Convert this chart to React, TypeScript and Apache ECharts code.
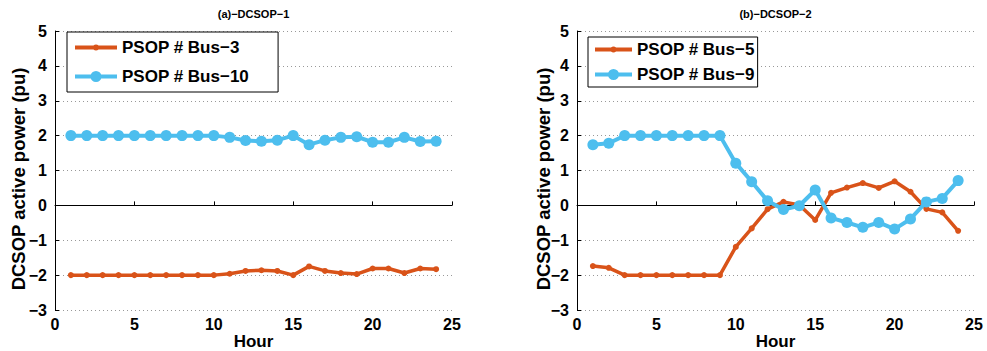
import { useEffect, useRef } from "react";
import * as echarts from "echarts";

// Hours of the day (x axis)
const hours = [1, 2, 3, 4, 5, 6, 7, 8, 9, 10, 11, 12, 13, 14, 15, 16, 17, 18, 19, 20, 21, 22, 23, 24];

// (a) DCSOP-1 active power, pu
const bus3 = [-2, -2, -2, -2, -2, -2, -2, -2, -2, -2, -1.96, -1.88, -1.86, -1.88, -2.0, -1.75, -1.88, -1.94, -1.97, -1.81, -1.81, -1.94, -1.81, -1.83];
const bus10 = [2, 2, 2, 2, 2, 2, 2, 2, 2, 2, 1.95, 1.86, 1.84, 1.87, 2.0, 1.74, 1.87, 1.95, 1.97, 1.81, 1.81, 1.95, 1.83, 1.84];

// (b) DCSOP-2 active power, pu
const bus5 = [-1.74, -1.79, -2, -2, -2, -2, -2, -2, -2, -1.19, -0.66, -0.11, 0.1, 0.01, -0.42, 0.36, 0.51, 0.64, 0.5, 0.69, 0.39, -0.1, -0.2, -0.73];
const bus9 = [1.74, 1.78, 2, 2, 2, 2, 2, 2, 2, 1.21, 0.68, 0.13, -0.12, -0.01, 0.44, -0.36, -0.49, -0.63, -0.49, -0.68, -0.39, 0.1, 0.2, 0.71];

const titles = ["(a)\u2212DCSOP\u22121", "(b)\u2212DCSOP\u22122"];
const names = ["PSOP # Bus\u22123", "PSOP # Bus\u221210", "PSOP # Bus\u22125", "PSOP # Bus\u22129"];
const xName = "Hour";
const yName = "DCSOP active power (pu)";

const ORANGE = "#D95319";
const BLUE = "#4DBEEE";
const FONT = "'Liberation Sans', Arial, Helvetica, sans-serif";

const pairs = (ys: number[]) => hours.map((h, i) => [h, ys[i]]);
const fmtY = (v: number) => (v < 0 ? "\u2212" + Math.abs(v) : String(v));

// legend icons: a bar with a dot in its middle
const lineDotIcon = (w: number, bar: number, r: number) => {
  const h = Math.max(2 * r, bar);
  const cy = h / 2;
  const cx = w / 2;
  return (
    `path://M0 ${cy - bar / 2} H${w} V${cy + bar / 2} H0 Z ` +
    `M${cx} ${cy - r} A${r} ${r} 0 1 1 ${cx} ${cy + r} A${r} ${r} 0 1 1 ${cx} ${cy - r} Z`
  );
};

const grids = [
  { left: 55, top: 31, width: 397, height: 279 },
  { left: 577, top: 31, width: 397, height: 279 },
];

const axisText = { color: "#000", fontFamily: FONT, fontWeight: "bold" as const, fontSize: 16 };

function makeX(gridIndex: number) {
  return {
    type: "value",
    gridIndex,
    min: 0,
    max: 25,
    interval: 5,
    axisLine: { show: true, lineStyle: { color: "#000", width: 1 } },
    axisTick: { show: true, inside: true, length: 4, lineStyle: { color: "#000" } },
    axisLabel: { ...axisText, margin: 6 },
    splitLine: { show: false },
  };
}

function makeY(gridIndex: number) {
  return {
    type: "value",
    gridIndex,
    min: -3,
    max: 5,
    interval: 1,
    axisLine: { show: true, lineStyle: { color: "#000", width: 1 } },
    axisTick: { show: true, inside: true, length: 4, lineStyle: { color: "#000" } },
    axisLabel: { ...axisText, margin: 8, formatter: fmtY },
    splitLine: { show: true, lineStyle: { color: "#999", width: 1, type: [1, 3] } },
  };
}

function lineSeries(name: string, ys: number[], idx: number, big: boolean) {
  return {
    type: "line",
    name,
    xAxisIndex: idx,
    yAxisIndex: idx,
    data: pairs(ys),
    symbol: "circle",
    symbolSize: big ? 11 : 6,
    showSymbol: true,
    color: big ? BLUE : ORANGE,
    itemStyle: { color: big ? BLUE : ORANGE },
    lineStyle: { color: big ? BLUE : ORANGE, width: big ? 4 : 3.5 },
    z: big ? 3 : 2,
  };
}

const legendText = { color: "#000", fontFamily: FONT, fontWeight: "bold" as const, fontSize: 17 };

export default function App() {
  const ref = useRef<HTMLDivElement>(null);

  useEffect(() => {
    document.body.style.margin = "0";
    if (!ref.current) return;
    const chart = echarts.init(ref.current, undefined, { renderer: "svg" });

    const graphic: any[] = [];
    grids.forEach((g, i) => {
      const cx = g.left + g.width / 2;
      graphic.push({
        type: "text",
        x: cx,
        y: 14,
        style: { text: titles[i], align: "center", verticalAlign: "middle", fill: "#000", font: `bold 11px ${FONT}` },
      });
      graphic.push({
        type: "text",
        x: cx,
        y: 341,
        style: { text: xName, align: "center", verticalAlign: "middle", fill: "#000", font: `bold 17px ${FONT}` },
      });
      graphic.push({
        type: "text",
        x: i === 0 ? 18 : 543,
        y: 179,
        rotation: Math.PI / 2,
        style: { text: yName, align: "center", verticalAlign: "middle", fill: "#000", font: `bold 18.5px ${FONT}` },
      });
    });

    chart.setOption({
      animation: false,
      backgroundColor: "#fff",
      grid: grids,
      xAxis: [makeX(0), makeX(1)],
      yAxis: [makeY(0), makeY(1)],
      legend: [
        {
          orient: "vertical",
          left: 67,
          top: 32,
          selectedMode: false,
          itemWidth: 42,
          itemHeight: 12,
          itemGap: 12,
          padding: [7, 29, 7, 8],
          borderColor: "#000",
          borderWidth: 1,
          backgroundColor: "#fff",
          textStyle: legendText,
          data: [
            { name: names[0], icon: lineDotIcon(42, 4, 3) },
            { name: names[1], icon: lineDotIcon(42, 4, 5.5) },
          ],
        },
        {
          orient: "vertical",
          left: 588,
          top: 37,
          selectedMode: false,
          itemWidth: 37,
          itemHeight: 12,
          itemGap: 8,
          padding: [4, 3, 4, 7],
          borderColor: "#000",
          borderWidth: 1,
          backgroundColor: "#fff",
          textStyle: legendText,
          data: [
            { name: names[2], icon: lineDotIcon(37, 4, 3) },
            { name: names[3], icon: lineDotIcon(37, 4, 5.5) },
          ],
        },
      ],
      series: [
        lineSeries(names[0], bus3, 0, false),
        lineSeries(names[1], bus10, 0, true),
        lineSeries(names[2], bus5, 1, false),
        lineSeries(names[3], bus9, 1, true),
      ],
      graphic,
    });

    return () => chart.dispose();
  }, []);

  return <div ref={ref} style={{ width: 987, height: 351 }} />;
}
